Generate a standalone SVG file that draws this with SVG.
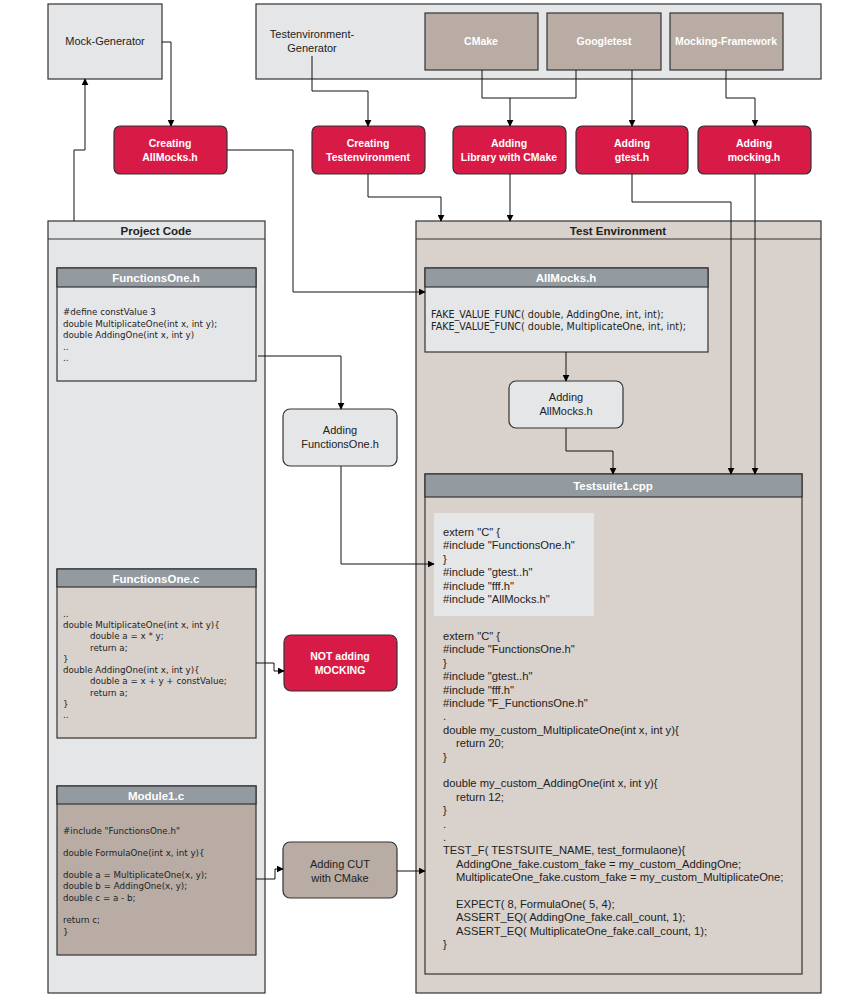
<svg xmlns="http://www.w3.org/2000/svg" width="868" height="1000" viewBox="0 0 868 1000">
<defs>
<marker id="arr" viewBox="0 0 10 10" refX="9" refY="5" markerWidth="7" markerHeight="7" orient="auto" markerUnits="userSpaceOnUse">
<path d="M0,0 L10,5 L0,10 Z" fill="#000"/>
</marker>
<style>
.box{stroke:#333;stroke-width:1.2}
.lg{fill:#e5e6e8}
.bg{fill:#d9d1cb}
.tan{fill:#b8aca4}
.red{fill:#d81b46}
.hdr{fill:#939aa0}
.lbl{font-family:"Liberation Sans",Arial,sans-serif;font-size:11px;fill:#222;text-anchor:middle}
.wl{font-family:"Liberation Sans",Arial,sans-serif;font-size:10.5px;font-weight:bold;fill:#fff;text-anchor:middle}
.ht{font-family:"Liberation Sans",Arial,sans-serif;font-size:11.5px;font-weight:bold;fill:#fff;text-anchor:middle}
.ct{font-family:"Liberation Sans",Arial,sans-serif;font-size:11.5px;font-weight:bold;fill:#222;text-anchor:middle}
.code{font-family:"DejaVu Sans",Verdana,sans-serif;font-size:8.7px;fill:#222}
.mk{font-family:"DejaVu Sans",Verdana,sans-serif;font-size:9.6px;fill:#222}
.ts{font-family:"Liberation Sans",Arial,sans-serif;font-size:11.2px;fill:#222}
.con{fill:none;stroke:#111;stroke-width:1}
</style>
</defs>
<rect width="868" height="1000" fill="#fff"/>

<g id="mock-generator">
<rect class="box lg" x="48" y="4" width="114" height="75"/>
<text class="lbl" x="105" y="45">Mock-Generator</text>
</g>

<g id="testenvironment-generator">
<rect class="box lg" x="256" y="4" width="565" height="75"/>
<text class="lbl" x="312" y="38">Testenvironment-</text>
<text class="lbl" x="312" y="52">Generator</text>
</g>
<g id="cmake">
<rect class="box tan" x="425" y="13" width="113" height="57"/>
<text class="wl" x="481" y="45">CMake</text>
</g>
<g id="googletest">
<rect class="box tan" x="547" y="13" width="114" height="57"/>
<text class="wl" x="604" y="45">Googletest</text>
</g>
<g id="mocking-framework">
<rect class="box tan" x="670" y="13" width="113" height="57"/>
<text class="wl" x="726" y="45">Mocking-Framework</text>
</g>

<g id="creating-allmocks">
<rect class="box red" x="114" y="126" width="113" height="48" rx="6"/>
<text class="wl" x="170" y="147">Creating</text>
<text class="wl" x="170" y="161">AllMocks.h</text>
</g>
<g id="creating-testenvironment">
<rect class="box red" x="312" y="126" width="113" height="48" rx="6"/>
<text class="wl" x="368" y="147">Creating</text>
<text class="wl" x="368" y="161">Testenvironment</text>
</g>
<g id="adding-library">
<rect class="box red" x="453" y="126" width="113" height="48" rx="6"/>
<text class="wl" x="509" y="147">Adding</text>
<text class="wl" x="509" y="161">Library with CMake</text>
</g>
<g id="adding-gtest">
<rect class="box red" x="576" y="126" width="112" height="48" rx="6"/>
<text class="wl" x="632" y="147">Adding</text>
<text class="wl" x="632" y="161">gtest.h</text>
</g>
<g id="adding-mocking">
<rect class="box red" x="698" y="126" width="113" height="48" rx="6"/>
<text class="wl" x="754" y="147">Adding</text>
<text class="wl" x="754" y="161">mocking.h</text>
</g>

<g id="project-code">
<rect class="box lg" x="48" y="221" width="217" height="772"/>
<line x1="48" y1="239" x2="265" y2="239" stroke="#333" stroke-width="1.2"/>
<text class="ct" x="156" y="235">Project Code</text>
</g>

<g id="test-environment">
<rect class="box bg" x="416" y="221" width="405" height="772"/>
<line x1="416" y1="239" x2="821" y2="239" stroke="#333" stroke-width="1.2"/>
<text class="ct" x="618" y="235">Test Environment</text>
</g>

<g id="functionsone-h">
<rect class="box lg" x="57" y="268" width="199" height="113"/>
<rect class="box hdr" x="57" y="268" width="199" height="19"/>
<text class="ht" x="156" y="282">FunctionsOne.h</text>
<text class="code" x="63" y="315">#define constValue 3</text>
<text class="code" x="63" y="327">double MultiplicateOne(int x, int y);</text>
<text class="code" x="63" y="338">double AddingOne(int x, int y)</text>
<text class="code" x="63" y="350">..</text>
<text class="code" x="63" y="361">..</text>
</g>

<g id="functionsone-c">
<rect class="box bg" x="57" y="569" width="199" height="169"/>
<rect class="box hdr" x="57" y="569" width="199" height="18"/>
<text class="ht" x="156" y="583">FunctionsOne.c</text>
<text class="code" x="63" y="617">..</text>
<text class="code" x="63" y="628">double MultiplicateOne(int x, int y){</text>
<text class="code" x="90" y="639">double a = x * y;</text>
<text class="code" x="90" y="651">return a;</text>
<text class="code" x="63" y="662">}</text>
<text class="code" x="63" y="673">double AddingOne(int x, int y){</text>
<text class="code" x="90" y="684">double a = x + y + constValue;</text>
<text class="code" x="90" y="696">return a;</text>
<text class="code" x="63" y="707">}</text>
<text class="code" x="63" y="718">..</text>
</g>

<g id="module1-c">
<rect class="box tan" x="57" y="786" width="199" height="169"/>
<rect class="box hdr" x="57" y="786" width="199" height="18"/>
<text class="ht" x="156" y="800">Module1.c</text>
<text class="code" x="63" y="834">#include "FunctionsOne.h"</text>
<text class="code" x="63" y="856">double FormulaOne(int x, int y){</text>
<text class="code" x="63" y="878">double a = MultiplicateOne(x, y);</text>
<text class="code" x="63" y="889">double b = AddingOne(x, y);</text>
<text class="code" x="63" y="901">double c = a - b;</text>
<text class="code" x="63" y="923">return c;</text>
<text class="code" x="63" y="935">}</text>
</g>

<g id="adding-functionsone">
<rect class="box lg" x="283" y="409" width="114" height="57" rx="7"/>
<text class="lbl" x="340" y="434">Adding</text>
<text class="lbl" x="340" y="448">FunctionsOne.h</text>
</g>
<g id="not-adding-mocking">
<rect class="box red" x="284" y="635" width="113" height="56" rx="7"/>
<text class="wl" x="340" y="660">NOT adding</text>
<text class="wl" x="340" y="674">MOCKING</text>
</g>
<g id="adding-cut">
<rect class="box tan" x="283" y="842" width="114" height="56" rx="7"/>
<text class="lbl" x="340" y="868">Adding CUT</text>
<text class="lbl" x="340" y="882">with CMake</text>
</g>

<g id="allmocks-h">
<rect class="box lg" x="425" y="268" width="283" height="84"/>
<rect class="box hdr" x="425" y="268" width="283" height="19"/>
<text class="ht" x="566" y="282">AllMocks.h</text>
<text class="mk" x="431" y="318">FAKE_VALUE_FUNC( double, AddingOne, int, int);</text>
<text class="mk" x="431" y="330">FAKE_VALUE_FUNC( double, MultiplicateOne, int, int);</text>
</g>

<g id="adding-allmocks">
<rect class="box lg" x="509" y="381" width="114" height="47" rx="7"/>
<text class="lbl" x="566" y="401">Adding</text>
<text class="lbl" x="566" y="415">AllMocks.h</text>
</g>

<g id="testsuite1-cpp">
<rect class="box bg" x="425" y="474" width="377" height="500"/>
<rect class="box hdr" x="425" y="474" width="377" height="23"/>
<text class="ht" x="613" y="490">Testsuite1.cpp</text>
<rect x="434" y="513" width="160" height="103" fill="#e5e6e8"/>
<text class="ts" x="443" y="536">extern "C" {</text>
<text class="ts" x="443" y="549.4">#include "FunctionsOne.h"</text>
<text class="ts" x="443" y="562.8">}</text>
<text class="ts" x="443" y="576.2">#include "gtest..h"</text>
<text class="ts" x="443" y="589.6">#include "fff.h"</text>
<text class="ts" x="443" y="603">#include "AllMocks.h"</text>
<text class="ts" x="443" y="640">extern "C" {</text>
<text class="ts" x="443" y="653.4">#include "FunctionsOne.h"</text>
<text class="ts" x="443" y="666.8">}</text>
<text class="ts" x="443" y="680.2">#include "gtest..h"</text>
<text class="ts" x="443" y="693.6">#include "fff.h"</text>
<text class="ts" x="443" y="707">#include "F_FunctionsOne.h"</text>
<text class="ts" x="443" y="720.4">.</text>
<text class="ts" x="443" y="733.8">double my_custom_MultiplicateOne(int x, int y){</text>
<text class="ts" x="456" y="747.2">return 20;</text>
<text class="ts" x="443" y="760.6">}</text>
<text class="ts" x="443" y="787.4">double my_custom_AddingOne(int x, int y){</text>
<text class="ts" x="456" y="800.8">return 12;</text>
<text class="ts" x="443" y="814.2">}</text>
<text class="ts" x="443" y="827.6">.</text>
<text class="ts" x="443" y="841">.</text>
<text class="ts" x="443" y="854.4">TEST_F( TESTSUITE_NAME, test_formulaone){</text>
<text class="ts" x="456" y="867.8">AddingOne_fake.custom_fake = my_custom_AddingOne;</text>
<text class="ts" x="456" y="881.2">MultiplicateOne_fake.custom_fake = my_custom_MultiplicateOne;</text>
<text class="ts" x="456" y="908">EXPECT( 8, FormulaOne( 5, 4);</text>
<text class="ts" x="456" y="921.4">ASSERT_EQ( AddingOne_fake.call_count, 1);</text>
<text class="ts" x="456" y="934.8">ASSERT_EQ( MultiplicateOne_fake.call_count, 1);</text>
<text class="ts" x="443" y="948.2">}</text>
</g>

<g id="connectors" class="con">
<path class="con" d="M162,42 H171 V126" marker-end="url(#arr)"/>
<path class="con" d="M74,221 V150 H85 V79" marker-end="url(#arr)"/>
<path class="con" d="M312,56 V91 H368 V126" marker-end="url(#arr)"/>
<path class="con" d="M482,70 V98 H576 V70"/>
<path class="con" d="M510,98 V126" marker-end="url(#arr)"/>
<path class="con" d="M632,70 V126" marker-end="url(#arr)"/>
<path class="con" d="M726,70 V98 H755 V126" marker-end="url(#arr)"/>
<path class="con" d="M227,150 H293 V292 H425" marker-end="url(#arr)"/>
<path class="con" d="M368,174 V197 H441 V221" marker-end="url(#arr)"/>
<path class="con" d="M510,174 V221" marker-end="url(#arr)"/>
<path class="con" d="M632,174 V202 H731 V474" marker-end="url(#arr)"/>
<path class="con" d="M755,174 V474" marker-end="url(#arr)"/>
<path class="con" d="M566,352 V381" marker-end="url(#arr)"/>
<path class="con" d="M566,428 V451 H613 V474" marker-end="url(#arr)"/>
<path class="con" d="M258,356 H341 V409" marker-end="url(#arr)"/>
<path class="con" d="M341,466 V564 H434" marker-end="url(#arr)"/>
<path class="con" d="M256,663 H274 V671 H284" marker-end="url(#arr)"/>
<path class="con" d="M256,879 H275 V869 H283" marker-end="url(#arr)"/>
<path class="con" d="M397,871 H425" marker-end="url(#arr)"/>
</g>
</svg>
